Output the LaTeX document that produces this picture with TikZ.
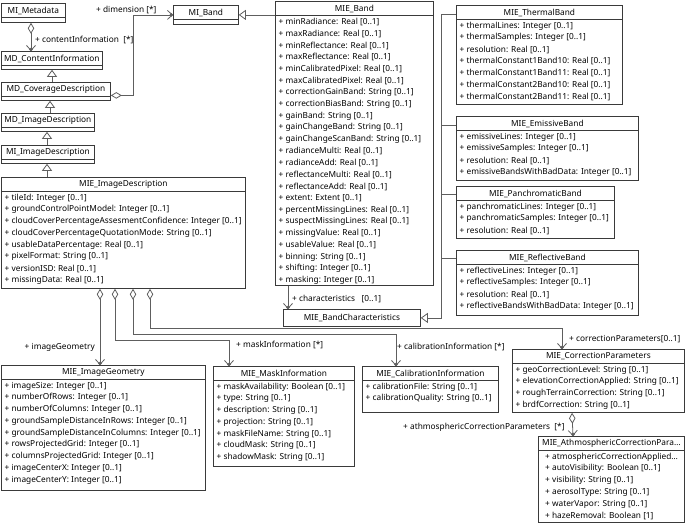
\documentclass[tikz,border=0pt]{standalone}
\usepackage{fontspec}
\setmainfont{Noto Sans}
\usetikzlibrary{arrows.meta}
\definecolor{frame}{HTML}{3A3A3A}
\definecolor{edge}{HTML}{5E5E5E}
\newcommand\umlfont{\fontsize{8.3}{11.75}\selectfont}
\tikzset{
 cls/.style={draw=frame,fill=white,anchor=north west,inner sep=0pt,line width=0.8pt},
 ttl/.style={inner sep=0pt},
 attr/.style={anchor=west,inner sep=0pt},
 role/.style={inner sep=0pt},
 conn/.style={draw=edge,line width=0.8pt},
 assoc/.style={conn,-{Straight Barb[length=5pt,width=9pt]}},
 agg/.style={conn,{Diamond[open,length=11pt,width=6.5pt]}-{Straight Barb[length=5pt,width=9pt]}},
 gen/.style={conn,-{Triangle[open,length=7pt,width=10pt]}},
}
% class box: name, x, y, width, height, title
\newcommand\umlclass[6]{%
 \node[cls,minimum width=#4,minimum height=#5] (#1) at (#2,#3) {};
 \draw[frame,line width=0.8pt] ([yshift=-14]#1.north west) -- ([yshift=-14]#1.north east);
 \node[ttl] (#1-name) at ([yshift=-7.5]#1.north) {#6};}
% attribute lines
\newcommand\umlattrs[3][3.5]{%
 \foreach \a [count=\i from 0] in {#3}
  \node[attr] (#2-\i) at ([xshift=#1,yshift={-21-11.75*\i}]#2.north west) {\a};}
% ownership dot at an association end
\newcommand\owndot[2][yshift=1.6pt]{\fill[edge] ([#1]#2) circle (1.9pt);}

\begin{document}
\begin{tikzpicture}[x=1pt,y=-1pt,font=\umlfont,>=Stealth]
\useasboundingbox (0,0) rectangle (685,523);
% ISO chain on the left
\umlclass{meta}{1}{3}{64}{19}{MI\_Metadata}
\umlclass{content}{1}{51}{101}{18}{MD\_ContentInformation}
\umlclass{coverage}{1}{82}{109}{18}{MD\_CoverageDescription}
\umlclass{mdimg}{1}{113}{93}{18}{MD\_ImageDescription}
\umlclass{miimg}{1}{145}{93}{18}{MI\_ImageDescription}
\umlclass{desc}{1}{177}{244}{111}{MIE\_ImageDescription}
\umlattrs{desc}{+ tileId: Integer [0..1], + groundControlPointModel: Integer [0..1], + cloudCoverPercentageAssesmentConfidence: Integer [0..1], + cloudCoverPercentageQuotationMode: String [0..1], + usableDataPercentage: Real [0..1], + pixelFormat: String [0..1], + versionISD: Real [0..1], + missingData: Real [0..1]}
\draw[agg] ([xshift=30]meta.south west) -- ([xshift=30]content.north west) coordinate (e-content);
\owndot{e-content}
\node[role,anchor=west] (lcontent) at (35,40) {+ contentInformation \ [*]};
\draw[gen] ([xshift=51]coverage.north west) -- ([xshift=51]content.south west);
\draw[gen] ([xshift=49]mdimg.north west) -- ([xshift=49]coverage.south west);
\draw[gen] ([xshift=46]miimg.north west) -- ([xshift=46]mdimg.south west);
\draw[gen] ([xshift=46]desc.north west) -- ([xshift=46]miimg.south west);
% bands
\umlclass{miband}{173}{5}{65}{19}{MI\_Band}
\draw[agg] ([yshift=-4]coverage.east) -- ++(23,0) |- (miband.west) coordinate (e-dim);
\owndot[xshift=-1.6pt]{e-dim}
\node[role,anchor=west] (ldim) at (96,10) {+ dimension [*]};
\umlclass{band}{275}{1}{158}{284}{MIE\_Band}
\umlattrs{band}{+ minRadiance: Real [0..1], + maxRadiance: Real [0..1], + minReflectance: Real [0..1], + maxReflectance: Real [0..1], + minCalibratedPixel: Real [0..1], + maxCalibratedPixel: Real [0..1], + correctionGainBand: String [0..1], + correctionBiasBand: String [0..1], + gainBand: String [0..1], + gainChangeBand: String [0..1], + gainChangeScanBand: String [0..1], + radianceMulti: Real [0..1], + radianceAdd: Real [0..1], + reflectanceMulti: Real [0..1], + reflectanceAdd: Real [0..1], + extent: Extent [0..1], + percentMissingLines: Real [0..1], + suspectMissingLines: Real [0..1], + missingValue: Real [0..1], + usableValue: Real [0..1], + binning: String [0..1], + shifting: Integer [0..1], + masking: Integer [0..1]}
\draw[gen] (band.west |- miband.east) -- (miband.east);
\node[cls,minimum width=137,minimum height=17] (bchar) at (283,309) {MIE\_BandCharacteristics};
\draw[assoc] ([xshift=13]band.south west) -- ([xshift=5]bchar.north west) coordinate (e-char);
\owndot{e-char}
\node[role,anchor=west] (lchar) at (292,299) {+ characteristics \ \ [0..1]};
% band subclasses
\umlclass{thermal}{456}{5}{166}{99}{MIE\_ThermalBand}
\umlattrs{thermal}{+ thermalLines: Integer [0..1], + thermalSamples: Integer [0..1], + resolution: Real [0..1], + thermalConstant1Band10: Real [0..1], + thermalConstant1Band11: Real [0..1], + thermalConstant2Band10: Real [0..1], + thermalConstant2Band11: Real [0..1]}
\umlclass{emissive}{456}{116}{182}{64}{MIE\_EmissiveBand}
\umlattrs{emissive}{+ emissiveLines: Integer [0..1], + emissiveSamples: Integer [0..1], + resolution: Real [0..1], + emissiveBandsWithBadData: Integer [0..1]}
\umlclass{panchro}{456}{186}{158}{52}{MIE\_PanchromaticBand}
\umlattrs{panchro}{+ panchromaticLines: Integer [0..1], + panchromaticSamples: Integer [0..1], + resolution: Real [0..1]}
\umlclass{reflective}{456}{250}{182}{65}{MIE\_ReflectiveBand}
\umlattrs{reflective}{+ reflectiveLines: Integer [0..1], + reflectiveSamples: Integer [0..1], + resolution: Real [0..1], + reflectiveBandsWithBadData: Integer [0..1]}
\draw[gen] ([yshift=-9]thermal.north west) -| ([xshift=21]bchar.east) -- (bchar.east);
\draw[conn] ([yshift=-9]emissive.north west) -- ++(-15,0);
\draw[conn] ([yshift=-8]panchro.north west) -- ++(-15,0);
\draw[conn] ([yshift=-8]reflective.north west) -- ++(-15,0);
% parts of the image description
\umlclass{geo}{1}{365}{204}{125}{MIE\_ImageGeometry}
\umlattrs{geo}{+ imageSize: Integer [0..1], + numberOfRows: Integer [0..1], + numberOfColumns: Integer [0..1], + groundSampleDistanceInRows: Integer [0..1], + groundSampleDistanceInColumns: Integer [0..1], + rowsProjectedGrid: Integer [0..1], + columnsProjectedGrid: Integer [0..1], + imageCenterX: Integer [0..1], + imageCenterY: Integer [0..1]}
\umlclass{mask}{213}{366}{141}{100}{MIE\_MaskInformation}
\umlattrs{mask}{+ maskAvailability: Boolean [0..1], + type: String [0..1], + description: String [0..1], + projection: String [0..1], + maskFileName: String [0..1], + cloudMask: String [0..1], + shadowMask: String [0..1]}
\umlclass{calib}{362}{366}{136}{46}{MIE\_CalibrationInformation}
\umlattrs{calib}{+ calibrationFile: String [0..1], + calibrationQuality: String [0..1]}
\umlclass{corr}{512}{349}{172}{63}{MIE\_CorrectionParameters}
\umlattrs{corr}{+ geoCorrectionLevel: String [0..1], + elevationCorrectionApplied: String [0..1], + roughTerrainCorrection: String [0..1], + brdfCorrection: String [0..1]}
\umlclass{atm}{538}{436}{146}{86}{MIE\_AthmosphericCorrectionPara\ldots}
\umlattrs[7]{atm}{+ atmosphericCorrectionApplied\ldots, + autoVisibility: Boolean [0..1], + visibility: String [0..1], + aerosolType: String [0..1], + waterVapor: String [0..1], + hazeRemoval: Boolean [1]}
\draw[agg] ([xshift=99]desc.south west) -- ([xshift=99]geo.north west) coordinate (e-geo);
\draw[agg] ([xshift=114]desc.south west) |- ([xshift=16,yshift=26]mask.north west) -- ([xshift=16]mask.north west) coordinate (e-mask);
\draw[agg] ([xshift=132]desc.south west) |- ([xshift=34,yshift=32]calib.north west) -- ([xshift=34]calib.north west) coordinate (e-calib);
\draw[agg] ([xshift=149]desc.south west) |- ([xshift=50,yshift=21]corr.north west) -- ([xshift=50]corr.north west) coordinate (e-corr);
\draw[agg] ([xshift=60]corr.south west) -- ([xshift=35]atm.north west) coordinate (e-atm);
\foreach \e in {geo,mask,calib,corr,atm} {\owndot{e-\e}}
\node[role,anchor=east] (lgeo) at (95,347) {+ imageGeometry};
\node[role,anchor=west] (lmask) at (236,345) {+ maskInformation [*]};
\node[role,anchor=west] (lcalib) at (397,347) {+ calibrationInformation [*]};
\node[role,anchor=west] (lcorr) at (569,339) {+ correctionParameters[0..1]};
\node[role,anchor=west] (latm) at (403,427) {+ athmosphericCorrectionParameters \ [*]};
\end{tikzpicture}
\end{document}
